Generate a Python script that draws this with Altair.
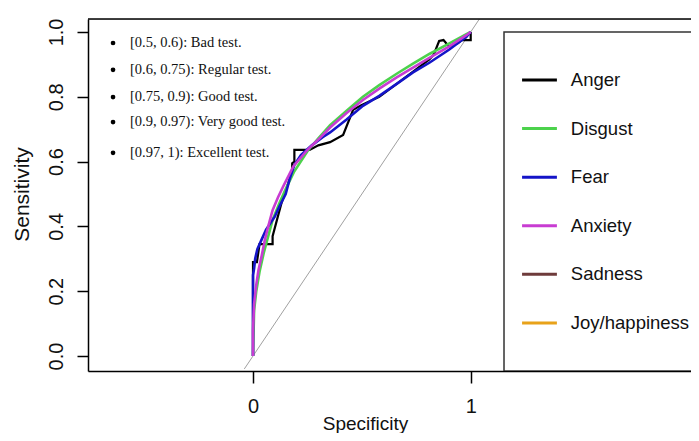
import altair as alt
import pandas as pd

# ---------------- data ----------------
emotions = ["Anger", "Disgust", "Fear", "Anxiety", "Sadness", "Joy/happiness"]
colors = ["#000000", "#4CD24C", "#1414C8", "#C83CD2", "#6E3B3B", "#E8A21A"]

anger_fpr = [0.0, 0.0, 0.018, 0.03, 0.09, 0.09, 0.11, 0.13, 0.15, 0.17, 0.18, 0.18, 0.19, 0.19,
             0.26, 0.30, 0.354, 0.414, 0.46, 0.50, 0.58, 0.66, 0.74, 0.81, 0.83, 0.855, 0.875,
             0.90, 0.94, 0.96, 1.0, 1.0]
anger_tpr = [0.0, 0.29, 0.29, 0.345, 0.345, 0.37, 0.42, 0.47, 0.51, 0.55, 0.565, 0.595, 0.60, 0.636,
             0.636, 0.65, 0.66, 0.682, 0.76, 0.775, 0.80, 0.84, 0.88, 0.915, 0.93, 0.972, 0.975,
             0.955, 0.965, 0.975, 0.975, 1.0]

disgust_fpr = [0.0, 0.005, 0.015, 0.03, 0.05, 0.07, 0.09, 0.12, 0.15, 0.19, 0.25, 0.30, 0.354,
               0.43, 0.505, 0.58, 0.66, 0.735, 0.81, 0.90, 0.98, 1.0]
disgust_tpr = [0.0, 0.14, 0.20, 0.26, 0.32, 0.37, 0.42, 0.47, 0.515, 0.57, 0.632, 0.672, 0.712,
               0.757, 0.80, 0.836, 0.871, 0.902, 0.932, 0.964, 0.993, 1.0]

fear_fpr = [0.0, 0.0, 0.005, 0.01, 0.02, 0.04, 0.06, 0.08, 0.10, 0.12, 0.15, 0.17, 0.19, 0.22,
            0.27, 0.32, 0.354, 0.43, 0.505, 0.58, 0.66, 0.735, 0.81, 0.90, 0.98, 1.0]
fear_tpr = [0.0, 0.25, 0.27, 0.30, 0.33, 0.36, 0.39, 0.41, 0.43, 0.46, 0.50, 0.55, 0.59, 0.62,
            0.65, 0.675, 0.69, 0.73, 0.772, 0.803, 0.84, 0.875, 0.905, 0.945, 0.985, 1.0]

anxiety_fpr = [0.0, 0.0, 0.005, 0.015, 0.025, 0.04, 0.055, 0.07, 0.09, 0.115, 0.14, 0.185, 0.25,
               0.30, 0.354, 0.43, 0.505, 0.58, 0.66, 0.735, 0.81, 0.90, 0.98, 1.0]
anxiety_tpr = [0.0, 0.08, 0.16, 0.22, 0.265, 0.31, 0.36, 0.40, 0.45, 0.49, 0.525, 0.585, 0.636,
               0.668, 0.705, 0.75, 0.79, 0.825, 0.86, 0.89, 0.92, 0.955, 0.99, 1.0]

diag_x = [-0.04, 1.04]
diag_y = [-0.04, 1.04]

note_labels = ["[0.5, 0.6): Bad test.", "[0.6, 0.75): Regular test.", "[0.75, 0.9): Good test.",
               "[0.9, 0.97): Very good test.", "[0.97, 1): Excellent test."]

# ---------------- build tables ----------------
curves = {
    "Anger": (anger_fpr, anger_tpr),
    "Disgust": (disgust_fpr, disgust_tpr),
    "Fear": (fear_fpr, fear_tpr),
    "Anxiety": (anxiety_fpr, anxiety_tpr),
}
rows = []
for name, (xs_, ys_) in curves.items():
    for i, (a, b) in enumerate(zip(xs_, ys_)):
        rows.append({"series": name, "idx": i, "x": a, "y": b})
df = pd.DataFrame(rows)

diag_df = pd.DataFrame({"x": diag_x, "y": diag_y, "idx": [0, 1]})

note_y = [0.966, 0.883, 0.799, 0.722, 0.627]
notes_df = pd.DataFrame({"label": note_labels, "y": note_y,
                         "x": [-0.565] * 5, "bx": [-0.643] * 5})

leg_y0, leg_step = 0.852, 0.150
legend_df = pd.DataFrame({
    "series": emotions,
    "y": [leg_y0 - i * leg_step for i in range(len(emotions))],
    "x": [1.236] * 6, "x2": [1.396] * 6, "tx": [1.46] * 6,
})
box_df = pd.DataFrame({"x": [1.153], "x2": [2.3], "y": [-0.0463], "y2": [1.0]})

# ---------------- scales / axes ----------------
PLOT_W, PLOT_H = 603, 352
X_MIN, X_MAX = -0.758, 2.012
Y_MIN, Y_MAX = -0.0463, 1.040
xsc = alt.Scale(domain=[X_MIN, X_MAX], nice=False, zero=False)
ysc = alt.Scale(domain=[Y_MIN, Y_MAX], nice=False, zero=False)
csc = alt.Scale(domain=emotions, range=colors)

x_axis = alt.Axis(values=[0, 1], format="d", title="Specificity", grid=False,
                  tickSize=12, tickWidth=1.5, tickColor="black",
                  domainColor="black", domainWidth=1.5,
                  labelPadding=13, labelFontSize=20, labelColor="#111",
                  labelFont="Liberation Sans",
                  titleFont="Liberation Sans", titleFontSize=19, titleFontWeight="normal",
                  titleColor="#111", titleX=277, titleY=58, titleBaseline="alphabetic",
                  titleAlign="center")
y_axis = alt.Axis(values=[0, 0.2, 0.4, 0.6, 0.8, 1.0], format=".1f", title="Sensitivity",
                  grid=False, tickSize=11, tickWidth=1.5, tickColor="black",
                  domainColor="black", domainWidth=1.5,
                  labelAngle=270, labelAlign="center", labelBaseline="alphabetic",
                  labelPadding=15, labelFontSize=20, labelColor="#111",
                  labelFont="Liberation Sans",
                  titleFont="Liberation Sans", titleFontSize=21, titleFontWeight="normal",
                  titleColor="#111", titleAngle=270, titleX=-60, titleY=175,
                  titleBaseline="alphabetic", titleAlign="center")

X = lambda f="x": alt.X(f, type="quantitative", scale=xsc, axis=x_axis)
Y = lambda f="y": alt.Y(f, type="quantitative", scale=ysc, axis=y_axis)

layers = []

diag = alt.Chart(diag_df).mark_line(color="#A0A0A0", strokeWidth=1).encode(
    x=X(), y=Y(), order="idx:Q")
layers.append(diag)

widths = {"Anger": 2.2, "Disgust": 2.6, "Fear": 2.6, "Anxiety": 2.6}
for name in curves:
    layers.append(
        alt.Chart(df).transform_filter(alt.datum.series == name)
        .mark_line(strokeWidth=widths[name], strokeJoin="miter", clip=True)
        .encode(x=X(), y=Y(), order="idx:Q",
                color=alt.Color("series:N", scale=csc, legend=None))
    )

bullets = alt.Chart(notes_df).mark_circle(color="black", size=22, opacity=1).encode(
    x=X("bx"), y=Y())
notes = alt.Chart(notes_df).mark_text(align="left", baseline="middle", font="Liberation Serif",
                                      fontSize=14.5, color="#111").encode(
    x=X(), y=Y(), text="label:N")
layers += [bullets, notes]

box = alt.Chart(box_df).mark_rect(fill="white", stroke="#333", strokeWidth=1.5, clip=True).encode(
    x=X(), x2="x2", y=Y(), y2="y2")
leg_lines = alt.Chart(legend_df).mark_rule(strokeWidth=3).encode(
    x=X(), x2="x2", y=Y(), color=alt.Color("series:N", scale=csc, legend=None))
leg_text = alt.Chart(legend_df).mark_text(align="left", baseline="middle", font="Liberation Sans",
                                          fontSize=18.5, color="#111").encode(
    x=X("tx"), y=Y(), text="series:N")
layers += [box, leg_lines, leg_text]

top_line = alt.Chart(pd.DataFrame({"a": [0]})).mark_rule(color="black", strokeWidth=1.5).encode(
    x=alt.value(0), x2=alt.value(PLOT_W), y=alt.value(0))
layers.append(top_line)

chart = alt.layer(*layers).properties(
    width=PLOT_W, height=PLOT_H,
    autosize=alt.AutoSizeParams(type="none"),
    padding={"left": 80, "top": 11, "right": 0, "bottom": 62},
).configure_view(stroke=None).configure(background="white")

chart.save("out.html", embed_options={"renderer": "svg", "actions": False})
